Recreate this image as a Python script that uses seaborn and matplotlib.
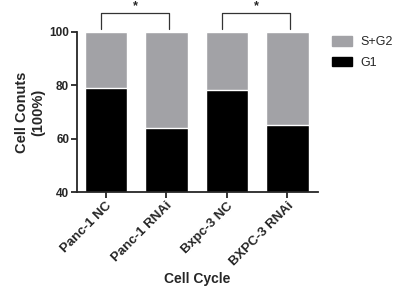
import matplotlib.pyplot as plt
import matplotlib.patches as mpatches
import pandas as pd
import seaborn as sns

groups = ["Panc-1 NC", "Panc-1 RNAi", "Bxpc-3 NC", "BXPC-3 RNAi"]
g1 = [78.9, 64.0, 78.1, 65.0]
sg2 = [21.1, 36.0, 21.9, 35.0]
pairs = [(0, 1), (2, 3)]

df = pd.DataFrame({"group": groups, "G1": g1, "SG2": sg2})
df["total"] = df["G1"] + df["SG2"]

sns.set_theme(style="ticks")
plt.rcParams["font.family"] = ["Liberation Sans", "DejaVu Sans"]
grey = "#a2a2a6"

fig = plt.figure(figsize=(3.98, 2.88), dpi=100)
ax = fig.add_axes([0.193, 0.333, 0.605, 0.556])

sns.barplot(data=df, x="group", y="total", color=grey, width=0.7,
            saturation=1, ax=ax)
sns.barplot(data=df, x="group", y="G1", color="black", width=0.7,
            saturation=1, ax=ax)

ax.set_ylim(40, 100)
ax.set_xlim(-0.48, 3.5)
ax.set_yticks([40, 60, 80, 100])
ax.tick_params(axis="both", width=1.3, length=4, labelsize=8.5, pad=1.5)
for lab in ax.get_yticklabels():
    lab.set_fontweight("bold")
ax.set_xticks(range(len(groups)))
ax.set_xticklabels(groups, rotation=45, ha="right", rotation_mode="anchor",
                   fontweight="bold", fontsize=9.5)
sns.despine(ax=ax)
for s in ["left", "bottom"]:
    ax.spines[s].set_linewidth(1.3)

ax.set_xlabel("Cell Cycle", fontweight="bold", fontsize=10, labelpad=3)
ax.set_ylabel("Cell Conuts\n(100%)", fontweight="bold", fontsize=10.5,
              labelpad=3)

# significance brackets
for a, b in pairs:
    x0, x1 = a - 0.08, b + 0.04
    ax.plot([x0, x0, x1, x1], [101.2, 107.1, 107.1, 101.2], color="#333333",
            lw=0.9, clip_on=False)
    ax.text((x0 + x1) / 2, 107.3, "*", ha="center", va="bottom",
            fontsize=9, fontweight="bold")

handles = [mpatches.Patch(color=grey, label="S+G2"),
           mpatches.Patch(color="black", label="G1")]
fig.legend(handles=handles, loc="upper left",
           bbox_to_anchor=(332 / 398, 1 - 36 / 288), frameon=False,
           fontsize=9, borderpad=0, borderaxespad=0,
           handlelength=1.6, handleheight=0.8, handletextpad=0.7,
           labelspacing=0.7)

fig.savefig("out.png", dpi=100)
